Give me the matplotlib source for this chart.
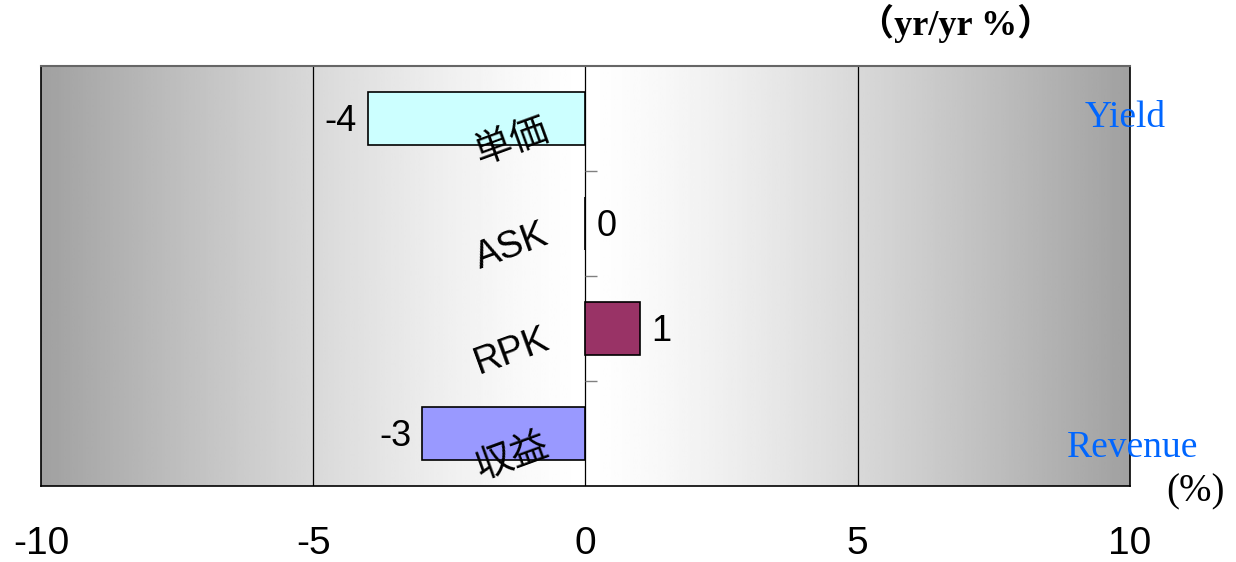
"""
YoY change bar chart (単価 / ASK / RPK / 収益)
"""

import numpy as np
import matplotlib

matplotlib.use("Agg")
import matplotlib.pyplot as plt

# data
categories = ["単価", "ASK", "RPK", "収益"]
values = [-4, 0, 1, -3]
bar_colors = ["#ccffff", "#ffffcc", "#993366", "#9999ff"]
xticks = [-10, -5, 0, 5, 10]

SANS = ["Liberation Sans", "Noto Sans CJK JP"]
SERIF = ["Liberation Serif", "Noto Sans CJK JP"]

fig = plt.figure(figsize=(12.36, 5.62), dpi=100)
ax = fig.add_axes([0.0332, 0.1352, 0.8810, 0.7474])

n = len(categories)
ypos = np.arange(n)

# gradient background (dark at edges, white in the middle)
gx = np.linspace(-10, 10, 400)
shade = 1 - 0.37 * (np.abs(gx) / 10) ** 1.3
ax.imshow(
    shade[np.newaxis, :],
    extent=[-10, 10, n - 0.5, -0.5],
    aspect="auto",
    cmap="gray",
    vmin=0,
    vmax=1,
    zorder=0,
    interpolation="bilinear",
)

# grid lines
for xv in xticks[1:-1]:
    ax.axvline(xv, color="black", linewidth=0.9, zorder=1)

ax.barh(
    ypos,
    values,
    height=0.5,
    color=bar_colors,
    edgecolor="black",
    linewidth=1.2,
    zorder=3,
)

# small marks on the zero axis between categories
ax.hlines(ypos[:-1] + 0.5, 0, 0.22, color="#808080", linewidth=1, zorder=2)

# value labels
for y, v in zip(ypos, values):
    if v < 0:
        ax.text(v - 0.2, y + 0.03, f"{v}", ha="right", va="center",
                fontsize=26, family=SANS, zorder=4)
    else:
        ax.text(v + 0.2, y + 0.03, f"{v}", ha="left", va="center",
                fontsize=26, family=SANS, zorder=4)

# rotated category labels
for y, c in zip(ypos, categories):
    ax.text(-1.35, y + 0.22, c, ha="center", va="center", rotation=20,
            fontsize=27, family=SANS, zorder=5)

ax.set_xlim(-10, 10)
ax.set_ylim(n - 0.5, -0.5)
ax.set_xticks(xticks)
ax.set_xticklabels([str(t) for t in xticks], fontsize=28, family=SANS)
ax.tick_params(axis="x", length=0, pad=29)
ax.set_yticks([])

for side in ["left", "right", "bottom"]:
    ax.spines[side].set_color("black")
    ax.spines[side].set_linewidth(1.2)
ax.spines["top"].set_color("#666666")
ax.spines["top"].set_linewidth(1.5)

# annotations
fig.text(0.773, 0.958, "（yr/yr %）", ha="center", va="center",
         fontsize=26, fontweight="bold", family=SERIF)
fig.text(0.910, 0.79, "Yield", ha="center", va="center",
         fontsize=27, color="#0066ff", family=SERIF)
fig.text(0.916, 0.203, "Revenue", ha="center", va="center",
         fontsize=27, color="#0066ff", family=SERIF)
fig.text(0.967, 0.1246, "(%)", ha="center", va="center",
         fontsize=28, color="black", family=SERIF)

plt.savefig("out.png", dpi=100)
plt.close()
